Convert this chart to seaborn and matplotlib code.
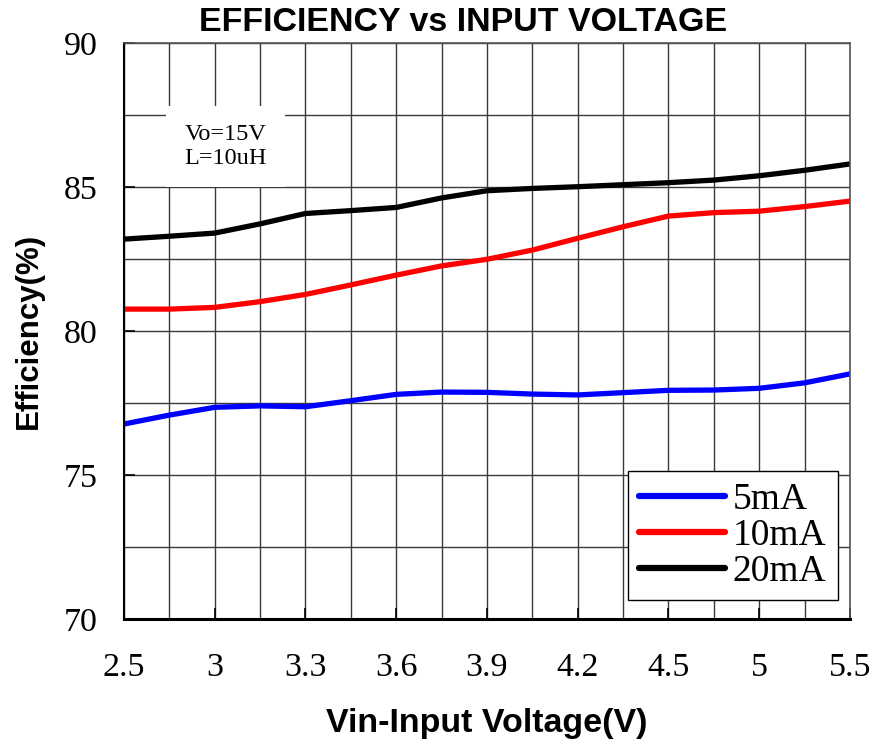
import pandas as pd
import seaborn as sns
import matplotlib.pyplot as plt

sns.set_theme(style='ticks')
plt.rcParams['font.family'] = ['Liberation Serif', 'DejaVu Serif']
plt.rcParams.update({'text.color': 'black', 'axes.labelcolor': 'black',
                     'xtick.color': 'black', 'ytick.color': 'black'})

# x positions on the (evenly spaced) category axis, half steps between ticks
x_pos = [0, 0.5, 1, 1.5, 2, 2.5, 3, 3.5, 4, 4.5, 5, 5.5, 6, 6.5, 7, 7.5, 8]
tick_labels = ['2.5', '3', '3.3', '3.6', '3.9', '4.2', '4.5', '5', '5.5']

eff_5ma = [76.77, 77.08, 77.35, 77.40, 77.37, 77.58, 77.80, 77.88, 77.87,
           77.81, 77.78, 77.86, 77.94, 77.95, 78.01, 78.20, 78.51]
eff_10ma = [80.76, 80.76, 80.82, 81.02, 81.27, 81.60, 81.94, 82.26, 82.49,
            82.81, 83.22, 83.62, 83.99, 84.11, 84.16, 84.32, 84.51]
eff_20ma = [83.19, 83.29, 83.40, 83.72, 84.08, 84.18, 84.29, 84.62, 84.87,
            84.95, 85.01, 85.08, 85.15, 85.24, 85.39, 85.58, 85.80]

series = ['5mA', '10mA', '20mA']
colors = ['#0000ff', '#ff0000', '#000000']

df = pd.concat([
    pd.DataFrame({'x': x_pos, 'eff': vals, 'load': name})
    for name, vals in zip(series, [eff_5ma, eff_10ma, eff_20ma])
])

fig = plt.figure(figsize=(8.73, 7.40), dpi=100)
ax = fig.add_axes([0.142, 0.1635, 0.8316, 0.7784])

sns.lineplot(data=df, x='x', y='eff', hue='load', hue_order=series,
             palette=colors, linewidth=3.8, ax=ax, legend=True)

ax.set_xlim(0, 8)
ax.set_ylim(70, 90)
ax.set_xticks(range(9))
ax.set_xticklabels(tick_labels)
ax.set_yticks([70, 75, 80, 85, 90])
ax.set_xticks(x_pos, minor=True)
ax.set_yticks([70, 72.5, 75, 77.5, 80, 82.5, 85, 87.5, 90], minor=True)
ax.grid(which='both', color='#3a3a3a', linewidth=1.0)
ax.set_axisbelow(True)
ax.tick_params(axis='both', which='major', direction='in', length=8,
               labelsize=24.5, width=1.2)
ax.tick_params(axis='both', which='minor', length=0)
ax.tick_params(axis='y', pad=19)
ax.tick_params(axis='x', pad=24)

for side in ['top', 'right']:
    ax.spines[side].set_color('#555555')
    ax.spines[side].set_linewidth(1.2)
ax.spines['left'].set_linewidth(1.5)
ax.spines['left'].set_color('black')
ax.spines['bottom'].set_linewidth(2.2)
ax.spines['bottom'].set_color('black')

ax.set_xlabel('Vin-Input Voltage(V)', family='Liberation Sans', fontweight='bold',
              fontsize=24.5, labelpad=18)
ax.set_ylabel('Efficiency(%)', family='Liberation Sans', fontweight='bold',
              fontsize=22.5, labelpad=14)
fig.text(0.53, 0.969, 'EFFICIENCY vs INPUT VOLTAGE', family='Liberation Sans',
         fontweight='bold', fontsize=24.5, ha='center', va='center')

ax.text(1.12, 86.4, 'Vo=15V\nL=10uH', fontsize=17.5, ha='center', va='center',
        linespacing=1.2,
        bbox=dict(facecolor='white', edgecolor='none', pad=13))

leg = ax.legend(loc='lower right', bbox_to_anchor=(0.983, 0.033), fontsize=27,
                frameon=True, fancybox=False, framealpha=1, edgecolor='black',
                handlelength=2.3, handletextpad=0.2, labelspacing=0.04,
                borderpad=0.3, borderaxespad=0.0, title=None)
leg.get_frame().set_linewidth(1.0)
for line in leg.get_lines():
    line.set_linewidth(4.5)
    line.set_solid_capstyle('round')

fig.savefig('out.png', dpi=100)
